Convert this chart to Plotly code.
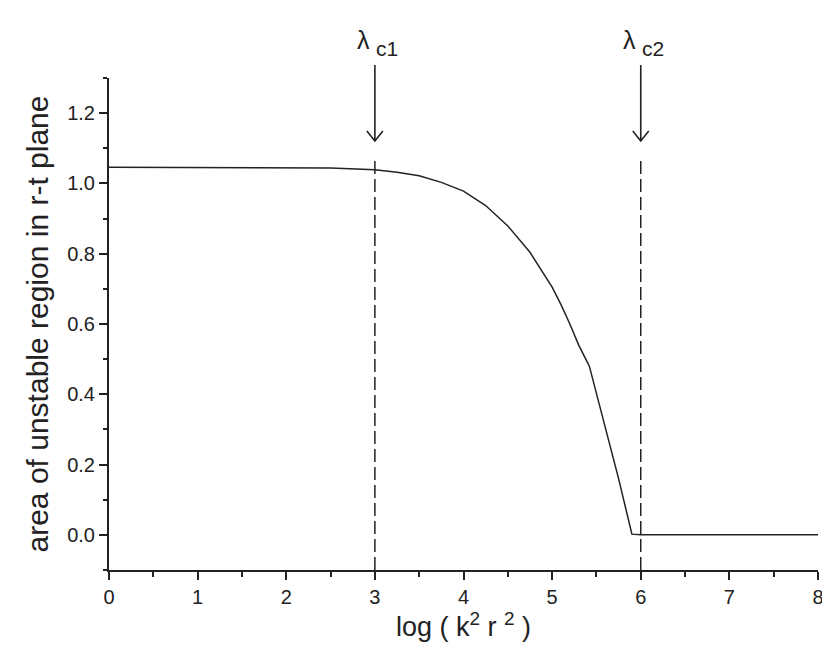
import plotly.graph_objects as go

# curve
log_k2r2 = [0, 0.5, 1, 1.5, 2, 2.5, 3, 3.25, 3.5, 3.75, 4, 4.25, 4.5, 4.75,
            5, 5.1, 5.2, 5.3, 5.42, 5.6, 5.75, 5.9, 6, 7, 8]
area = [1.046, 1.046, 1.046, 1.046, 1.045, 1.044, 1.039, 1.032, 1.022, 1.003,
        0.978, 0.937, 0.879, 0.804, 0.705, 0.655, 0.600, 0.540, 0.480, 0.305,
        0.160, 0.002, 0.0, 0.0, 0.0]

# critical values marked with arrows
lambda_c = [3, 6]
lambda_names = ["c1", "c2"]

y_ticks = [0.0, 0.2, 0.4, 0.6, 0.8, 1.0, 1.2]
x_ticks = [0, 1, 2, 3, 4, 5, 6, 7, 8]

ink = "#222222"
font = "Liberation Sans, Arial, Helvetica, sans-serif"

fig = go.Figure()
fig.add_trace(
    go.Scatter(
        x=log_k2r2,
        y=area,
        mode="lines",
        line={"color": ink, "width": 1.5},
        showlegend=False,
        hoverinfo="skip",
    )
)

annotations = []
shapes = []
for lc, name in zip(lambda_c, lambda_names):
    # dashed marker down to the axis
    shapes.append(dict(
        type="line", xref="x", yref="paper",
        x0=lc, x1=lc, y0=0, y1=0.837,
        line={"color": ink, "width": 1.5, "dash": "13px,5px"},
    ))
    # arrow: shaft + open chevron head, sized in pixels
    shapes.append(dict(
        type="path", xref="x", yref="paper",
        xsizemode="pixel", ysizemode="pixel",
        xanchor=lc, yanchor=0.872,
        path="M0,76 L0,0 M-8,10 L0,0 L8,10",
        line={"color": ink, "width": 1.6},
    ))
    annotations.append(dict(
        x=lc, y=1.077, xref="x", yref="paper",
        text="λ", showarrow=False, xanchor="right", yanchor="middle",
        xshift=-3, font={"size": 25, "color": ink, "family": font},
    ))
    annotations.append(dict(
        x=lc, y=1.06, xref="x", yref="paper",
        text=name, showarrow=False, xanchor="left", yanchor="middle",
        xshift=-1, font={"size": 21, "color": ink, "family": font},
    ))

fig.update_layout(
    width=830,
    height=654,
    margin={"l": 101, "r": 20, "t": 70, "b": 92},
    plot_bgcolor="white",
    paper_bgcolor="white",
    font={"family": font, "color": ink},
    shapes=shapes,
    annotations=annotations,
    showlegend=False,
)

fig.update_xaxes(
    range=[0, 8],
    tickvals=x_ticks,
    ticks="outside",
    ticklen=8,
    tickwidth=1.5,
    tickcolor=ink,
    minor={"dtick": 0.5, "ticks": "outside", "ticklen": 5, "tickwidth": 1.5, "tickcolor": ink},
    showline=True,
    linecolor=ink,
    linewidth=2,
    showgrid=False,
    zeroline=False,
    tickfont={"size": 20},
    title={"text": "log ( k<sup>2</sup> r <sup>2</sup> )", "font": {"size": 27}, "standoff": 8},
)
fig.update_yaxes(
    range=[-0.1, 1.3],
    tickvals=y_ticks,
    tickformat=".1f",
    ticks="outside",
    ticklen=8,
    tickwidth=1.5,
    tickcolor=ink,
    minor={"dtick": 0.1, "ticks": "outside", "ticklen": 4, "tickwidth": 1.5, "tickcolor": ink},
    showline=True,
    linecolor=ink,
    linewidth=2,
    showgrid=False,
    zeroline=False,
    tickfont={"size": 20},
    title={"text": "area of unstable region in r-t plane", "font": {"size": 30}, "standoff": 10},
)

fig.write_html("out.html")
